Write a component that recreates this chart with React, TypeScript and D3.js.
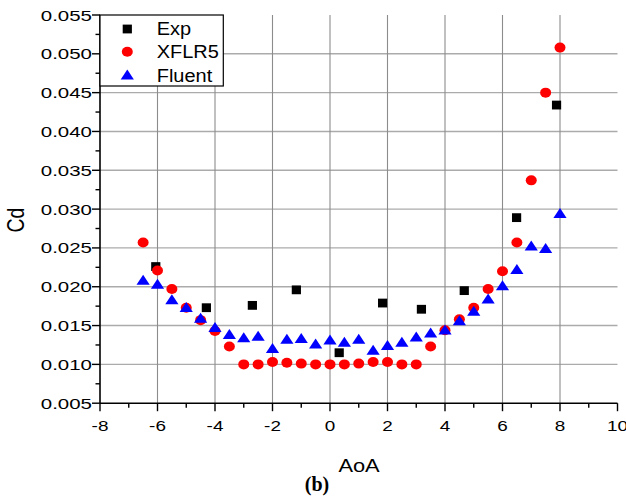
import React from 'react';
import * as d3 from 'd3';

const seriesNames = ['Exp', 'XFLR5', 'Fluent'];
const seriesColors = ['#000000', '#ff0000', '#0000ff'];

const expAoA = [-6.06, -4.3, -2.7, -1.17, 0.32, 1.83, 3.18, 4.67, 6.49, 7.88];
const expCd = [0.0226, 0.0173, 0.0176, 0.0196, 0.0115, 0.0179, 0.0171, 0.0195, 0.0289, 0.0434];

const simAoA = [-6.5, -6, -5.5, -5, -4.5, -4, -3.5, -3, -2.5, -2, -1.5, -1, -0.5, 0, 0.5, 1, 1.5, 2, 2.5, 3, 3.5, 4, 4.5, 5, 5.5, 6, 6.5, 7, 7.5, 8];
const xflr5Cd = [0.0257, 0.0221, 0.0197, 0.0173, 0.0157, 0.0143, 0.0123, 0.01, 0.01, 0.0103, 0.0102, 0.0101, 0.01, 0.01, 0.01, 0.0101, 0.0103, 0.0103, 0.01, 0.01, 0.0123, 0.0144, 0.0158, 0.0173, 0.0197, 0.022, 0.0257, 0.0337, 0.045, 0.0508];
const fluentCd = [0.0209, 0.0204, 0.0184, 0.0174, 0.016, 0.0148, 0.0139, 0.0135, 0.0137, 0.0121, 0.0133, 0.0134, 0.0127, 0.0132, 0.0129, 0.0133, 0.0119, 0.0125, 0.0129, 0.0136, 0.0141, 0.0145, 0.0157, 0.0169, 0.0185, 0.0202, 0.0223, 0.0253, 0.025, 0.0295];

const xTicks = [-8, -6, -4, -2, 0, 2, 4, 6, 8, 10];
const xMinor = [-7, -5, -3, -1, 1, 3, 5, 7, 9];
const yTicks = [0.005, 0.01, 0.015, 0.02, 0.025, 0.03, 0.035, 0.04, 0.045, 0.05, 0.055];
const yMinor = [0.0075, 0.0125, 0.0175, 0.0225, 0.0275, 0.0325, 0.0375, 0.0425, 0.0475, 0.0525];

const W = 626, H = 496;
const L = 100, R = 617.5, T = 15, B = 403.2;

export default function App() {
  const x = d3.scaleLinear().domain([-8, 10]).range([L, R]);
  const y = d3.scaleLinear().domain([0.005, 0.055]).range([B, T]);
  const sans = '"Liberation Sans", Arial, sans-serif';

  const square = (cx: number, cy: number, k: string) => (
    <rect key={k} x={cx - 4.6} y={cy - 4.4} width={9.2} height={8.8} fill={seriesColors[0]} />
  );
  const circle = (cx: number, cy: number, k: string) => (
    <ellipse key={k} cx={cx} cy={cy} rx={5.5} ry={5} fill={seriesColors[1]} />
  );
  const tri = (cx: number, cy: number, k: string) => (
    <path key={k} d={`M${cx},${cy - 5}L${cx + 6.6},${cy + 5}L${cx - 6.6},${cy + 5}Z`} fill={seriesColors[2]} />
  );

  return (
    <div style={{ position: 'absolute', left: 0, top: 0 }}>
      <svg width={W} height={H} style={{ display: 'block', background: '#fff' }}>
        {/* grid */}
        {yTicks.filter(v => v > 0.0051 && v < 0.0549).map(v => (
          <line key={'gy' + v} x1={L} x2={R} y1={y(v)} y2={y(v)} stroke="#ababab" strokeWidth={1.4} />
        ))}
        {xTicks.filter(v => v > -8 && v < 10).map(v => (
          <line key={'gx' + v} x1={x(v)} x2={x(v)} y1={T} y2={B} stroke="#8c8c8c" strokeWidth={1.1} />
        ))}

        {/* axes */}
        <line x1={L} x2={L} y1={T} y2={B} stroke="#000" strokeWidth={1.6} />
        <line x1={L} x2={R} y1={B} y2={B} stroke="#000" strokeWidth={1.6} />
        {xTicks.map(v => (
          <line key={'tx' + v} x1={x(v)} x2={x(v)} y1={B} y2={B + 8} stroke="#000" strokeWidth={1.4} />
        ))}
        {xMinor.map(v => (
          <line key={'mx' + v} x1={x(v)} x2={x(v)} y1={B} y2={B + 4.5} stroke="#000" strokeWidth={1.4} />
        ))}
        {yTicks.map(v => (
          <line key={'ty' + v} x1={L - 8} x2={L} y1={y(v)} y2={y(v)} stroke="#000" strokeWidth={1.4} />
        ))}
        {yMinor.map(v => (
          <line key={'my' + v} x1={L - 4.5} x2={L} y1={y(v)} y2={y(v)} stroke="#000" strokeWidth={1.4} />
        ))}

        {/* tick labels */}
        {xTicks.map(v => (
          <text key={'lx' + v} transform={`translate(${x(v)},${430.5}) scale(1.22,1)`} textAnchor="middle"
            fontFamily={sans} fontSize={15.5} fill="#000">{String(v)}</text>
        ))}
        {yTicks.map(v => (
          <text key={'ly' + v} transform={`translate(${92},${y(v) + 5.5}) scale(1.32,1)`} textAnchor="end"
            fontFamily={sans} fontSize={15.5} fill="#000">{d3.format('.3f')(v)}</text>
        ))}

        {/* axis titles */}
        <text transform="translate(359,472) scale(1.18,1)" textAnchor="middle" fontFamily={sans} fontSize={18.5} fill="#000">AoA</text>
        <text transform="translate(24,220) rotate(-90) scale(1,1.2)" textAnchor="middle" fontFamily={sans} fontSize={19.5} fill="#000">Cd</text>
        <text x={317} y={491} textAnchor="middle" fontFamily='"Liberation Serif", "Times New Roman", serif' fontWeight="bold" fontSize={20} fill="#000">(b)</text>

        {/* data */}
        <g>{expAoA.map((a, i) => square(x(a), y(expCd[i]), 'e' + i))}</g>
        <g>{simAoA.map((a, i) => circle(x(a), y(xflr5Cd[i]), 'c' + i))}</g>
        <g>{simAoA.map((a, i) => tri(x(a), y(fluentCd[i]), 't' + i))}</g>

        {/* legend */}
        <rect x={L} y={T} width={123.3} height={71} fill="#fff" stroke="#000" strokeWidth={1.2} />
        {square(127.3, 29, 'lg0')}
        {circle(127.3, 51.7, 'lg1')}
        {tri(127.3, 74.5, 'lg2')}
        {seriesNames.map((n, i) => (
          <text key={'lt' + n} transform={`translate(156.7,${[35, 58.3, 81.7][i]}) scale(1.08,1)`}
            fontFamily={sans} fontSize={18.5} fill="#000">{n}</text>
        ))}
      </svg>
    </div>
  );
}
